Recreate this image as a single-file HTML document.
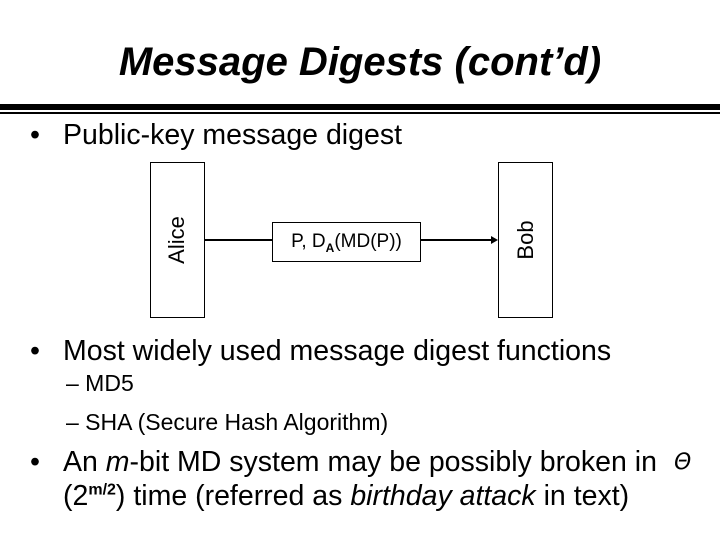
<!DOCTYPE html>
<html><head><style>
body{margin:0;width:720px;height:540px;background:#fff;position:relative;overflow:hidden;font-family:"Liberation Sans",sans-serif;color:#000}
.t{position:absolute;white-space:nowrap}
.b{position:absolute;border:1.5px solid #000;box-sizing:border-box}
.bl{position:absolute;left:30px}
</style></head><body>
<div class="t" style="left:0;width:720px;text-align:center;top:40px;font-size:40px;font-weight:bold;font-style:italic">Message Digests (cont’d)</div>
<div style="position:absolute;left:0;top:104px;width:720px;height:6px;background:#000"></div>
<div style="position:absolute;left:0;top:112px;width:720px;height:2px;background:#000"></div>
<div class="t" style="left:30px;top:119px;font-size:28.5px">•</div>
<div class="t" style="left:63px;top:119px;font-size:28.5px">Public-key message digest</div>
<div class="b" style="left:150px;top:162px;width:55px;height:156px"></div>
<div class="t" style="left:177px;top:240px;font-size:22px;transform:translate(-50%,-50%) rotate(-90deg)">Alice</div>
<div class="b" style="left:498px;top:162px;width:55px;height:156px"></div>
<div class="t" style="left:526px;top:240px;font-size:22px;transform:translate(-50%,-50%) rotate(-90deg)">Bob</div>
<div style="position:absolute;left:205px;top:239px;width:288px;height:1.5px;background:#000"></div>
<div style="position:absolute;left:491px;top:236px;width:0;height:0;border-left:7px solid #000;border-top:4px solid transparent;border-bottom:4px solid transparent"></div>
<div class="b" style="left:272px;top:222px;width:149px;height:40px;background:#fff;text-align:center;font-size:19px;line-height:38px">P, D<sub style="font-size:12px;font-weight:bold">A</sub>(MD(P))</div>
<div class="t" style="left:30px;top:335px;font-size:28.5px">•</div>
<div class="t" style="left:63px;top:335px;font-size:28.5px">Most widely used message digest functions</div>
<div class="t" style="left:66px;top:370px;font-size:23px">– MD5</div>
<div class="t" style="left:66px;top:409px;font-size:23px">– SHA (Secure Hash Algorithm)</div>
<div class="t" style="left:30px;top:446px;font-size:28.5px">•</div>
<div class="t" style="left:63px;top:446px;font-size:28.5px">An <i>m</i>-bit MD system may be possibly broken in</div>
<div class="t" style="left:674px;top:450px;font-size:22px;font-family:'DejaVu Sans',sans-serif;font-style:italic">Θ</div>
<div class="t" style="left:63px;top:480px;font-size:28.5px">(2<sup style="font-size:16px;font-weight:bold">m/2</sup>) time (referred as <i>birthday attack</i> in text)</div>
</body></html>
